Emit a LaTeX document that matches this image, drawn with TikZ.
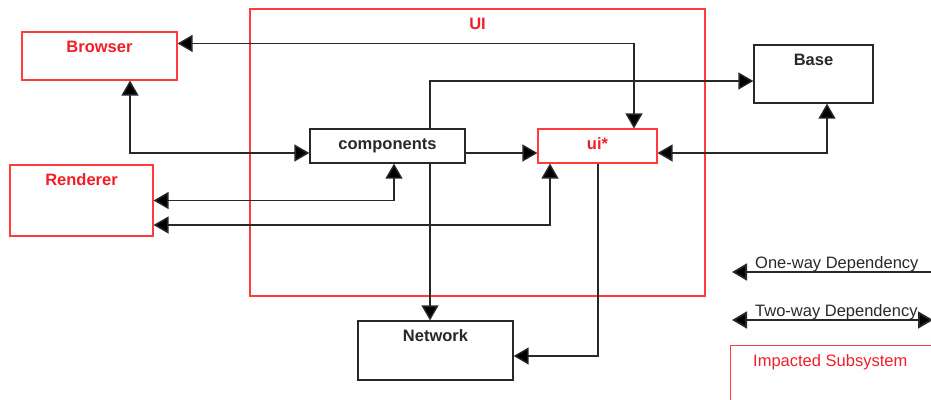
\documentclass[tikz,border=0pt]{standalone}
\usepackage{fontspec}
\setmainfont{Liberation Sans}
\usetikzlibrary{arrows.meta}
\definecolor{subsys}{RGB}{255,60,60}
\definecolor{subtext}{RGB}{240,30,40}
\definecolor{ink}{RGB}{40,40,40}
\tikzset{
  x=1pt, y=-1pt,
  box/.style={draw=ink, line width=1.3pt, fill=white, inner sep=0pt},
  redbox/.style={draw=subsys, line width=1.1pt, fill=white, inner sep=0pt},
  title/.style={anchor=base, yshift=-21.5pt, inner sep=0pt,
    font=\fontsize{16.5}{19}\selectfont\bfseries},
  tip/.tip={Triangle[length=15pt,width=17pt]},
  one/.style={draw=ink, line width=1.4pt, -{tip[fill=black]}},
  two/.style={draw=ink, line width=1.4pt, {tip[fill=black]}-{tip[fill=black]}},
  legendtext/.style={anchor=base west, inner sep=0pt, text=ink,
    font=\fontsize{16.5}{19}\selectfont},
}
\begin{document}
\begin{tikzpicture}
\useasboundingbox (0,0) rectangle (931,399);
\clip (0,0) rectangle (931,399);

% UI subsystem container
\node[draw=subsys, line width=1.1pt, inner sep=0pt,
      minimum width=455pt, minimum height=287pt,
      label={[title, text=subtext]north:UI}] (uibox) at (477.5,152.5) {};

% subsystems
\node[redbox, minimum width=155pt, minimum height=48pt,
      label={[title, text=subtext]north:Browser}] (browser) at (99.5,56) {};
\node[redbox, minimum width=143pt, minimum height=71pt,
      label={[title, text=subtext]north:Renderer}] (rend) at (81.5,200.5) {};
\node[box, minimum width=155pt, minimum height=34pt,
      label={[title, text=ink]north:components}] (comp) at (387.5,146) {};
\node[redbox, minimum width=119pt, minimum height=34pt,
      label={[title, text=subtext]north:ui*}] (ui) at (597.5,146) {};
\node[box, minimum width=119pt, minimum height=58pt,
      label={[title, text=ink]north:Base}] (base) at (813.5,74) {};
\node[box, minimum width=155pt, minimum height=59pt,
      label={[title, text=ink]north:Network}] (net) at (435.5,350.5) {};

% dependencies
\draw[two] ([yshift=-12pt]browser.north east) -| ([xshift=36.5pt]ui.north);
\draw[two] ([xshift=30.5pt]browser.south) |- ([yshift=-7pt]comp.west);
\draw[one] ([xshift=42.5pt]comp.north) |- ([yshift=-7pt]base.west);
\draw[one] ([yshift=-7pt]comp.east) -- ([yshift=-7pt]ui.west);
\draw[two] ([xshift=13.5pt]base.south) |- ([yshift=-7pt]ui.east);
\draw[two] ([xshift=6.5pt]comp.south) |- (rend.east);
\draw[two] ([xshift=-47.5pt]ui.south) |- ([yshift=-24.5pt]rend.east);
\draw[one] ([xshift=42.5pt]comp.south) -- ([xshift=-5.5pt]net.north);
\draw[one] ([xshift=0.5pt]ui.south) |- ([yshift=-5.5pt]net.east);

% legend
\coordinate (l1a) at (945,272);
\coordinate (l1b) at (732,272);
\coordinate (l2a) at (732,320);
\coordinate (l2b) at (933,320);
\draw[one, line width=1.8pt] (l1a) -- (l1b);
\node[legendtext] (l1t) at (755,268) {One-way Dependency};
\draw[two, line width=1.8pt] (l2a) -- (l2b);
\node[legendtext] (l2t) at (755,316) {Two-way Dependency};
\node[draw=subsys, line width=1.1pt, inner sep=0pt, anchor=north west,
      minimum width=260pt, minimum height=80pt] (legbox) at (730,345) {};
\node[legendtext, text=subtext] (legboxt) at (753,366) {Impacted Subsystem};
\end{tikzpicture}
\end{document}
